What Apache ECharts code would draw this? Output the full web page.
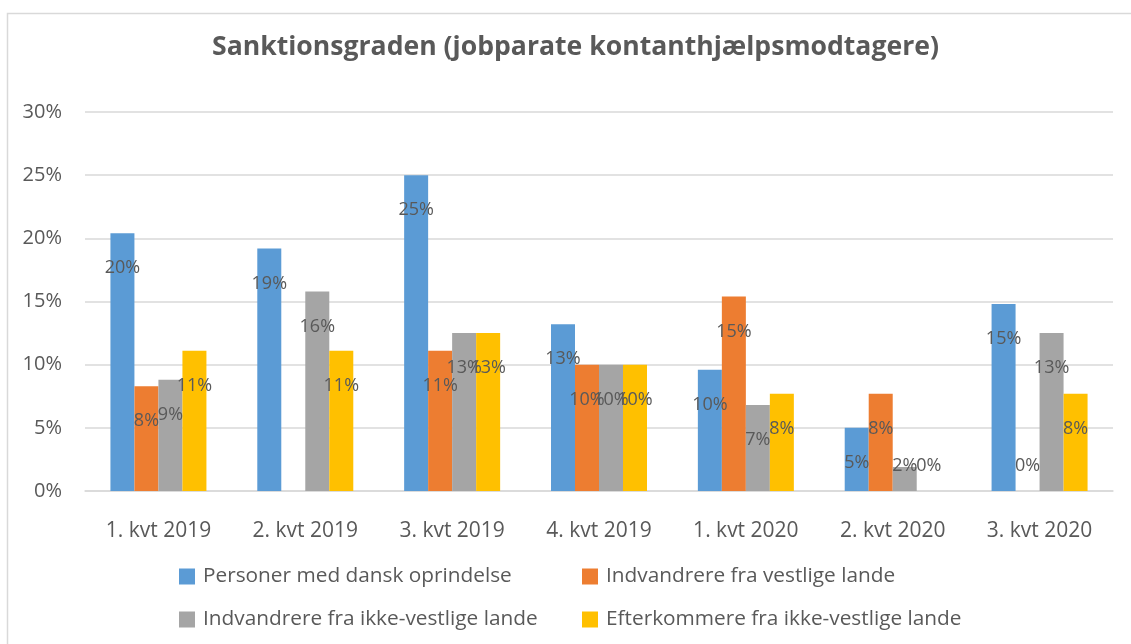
<!DOCTYPE html>
<html>
<head>
<meta charset="utf-8">
<script src="https://cdn.jsdelivr.net/npm/echarts@6/dist/echarts.min.js"></script>
<style>
html,body{margin:0;padding:0;background:#fff;}
#chart{width:1131px;height:644px;}
</style>
</head>
<body>
<div id="chart"></div>
<script>
var categories = ['1. kvt 2019','2. kvt 2019','3. kvt 2019','4. kvt 2019','1. kvt 2020','2. kvt 2020','3. kvt 2020'];
var seriesNames = ['Personer med dansk oprindelse','Indvandrere fra vestlige lande','Indvandrere fra ikke-vestlige lande','Efterkommere fra ikke-vestlige lande'];
var dansk = [20.4, 19.2, 25.0, 13.2, 9.6, 5.0, 14.8];
var vestlige = [8.3, null, 11.1, 10.0, 15.4, 7.7, 0];
var ikkeVestlige = [8.8, 15.8, 12.5, 10.0, 6.8, 1.9, 12.5];
var efterkommere = [11.1, 11.1, 12.5, 10.0, 7.7, 0, 7.7];
var colors = ['#5B9BD5','#ED7D31','#A5A5A5','#FFC000'];

var font = "'Open Sans', 'Noto Sans', sans-serif";
var textColor = '#595959';

// labels sit ~35px under the bar top, short bars get them near the base
function toItems(arr){
	return arr.map(function(v){
		if(v == null) return null;
		if(v < 4) return {value:v, label:{position:'insideBottom', distance:16}};
		return {value:v};
	});
}

var allData = [dansk, vestlige, ikkeVestlige, efterkommere];
var series = [];
for(var i = 0; i < 4; i++){
	series.push({
		name: seriesNames[i],
		type: 'bar',
		data: toItems(allData[i]),
		barWidth: 24,
		barGap: '0%',
		itemStyle: {color: colors[i]},
		label: {
			show: true,
			position: 'insideTop',
			distance: 26,
			color: textColor,
			fontFamily: font,
			fontSize: 18,
			formatter: function(p){ return Math.round(p.value) + '%'; }
		}
	});
}

var legendPos = [[174,561],[577,561],[174,604],[577,604]];
var legends = [];
for(var j = 0; j < 4; j++){
	legends.push({
		data: [seriesNames[j]],
		left: legendPos[j][0],
		top: legendPos[j][1],
		icon: 'rect',
		itemWidth: 16,
		itemHeight: 16,
		selectedMode: false,
		textStyle: {color: textColor, fontFamily: font, fontSize: 20.8, padding: [0,0,0,3]}
	});
}

var chart = echarts.init(document.getElementById('chart'));
chart.setOption({
	animation: false,
	title: {
		text: 'Sanktionsgraden (jobparate kontanthjælpsmodtagere)',
		left: 207,
		top: 29,
		textStyle: {color: textColor, fontFamily: font, fontSize: 26.6, fontWeight: 'bold'}
	},
	graphic: [{
		type: 'rect',
		shape: {x: 7.5, y: 13.5, width: 1140, height: 660},
		style: {fill: 'none', stroke: '#D9D9D9', lineWidth: 1.5},
		silent: true
	}],
	legend: legends,
	grid: {left: 85, right: 18, top: 112, bottom: 153},
	xAxis: {
		type: 'category',
		data: categories,
		axisLine: {lineStyle: {color: '#D9D9D9', width: 1.5}},
		axisTick: {show: false},
		axisLabel: {color: textColor, fontFamily: font, fontSize: 21, margin: 30}
	},
	yAxis: {
		type: 'value',
		min: 0,
		max: 30,
		interval: 5,
		axisLine: {show: false},
		axisTick: {show: false},
		splitLine: {lineStyle: {color: '#D9D9D9', width: 1.5}},
		axisLabel: {color: textColor, fontFamily: font, fontSize: 20, margin: 23, padding: [7,0,0,0], formatter: '{value}%'}
	},
	series: series
});
</script>
</body>
</html>
